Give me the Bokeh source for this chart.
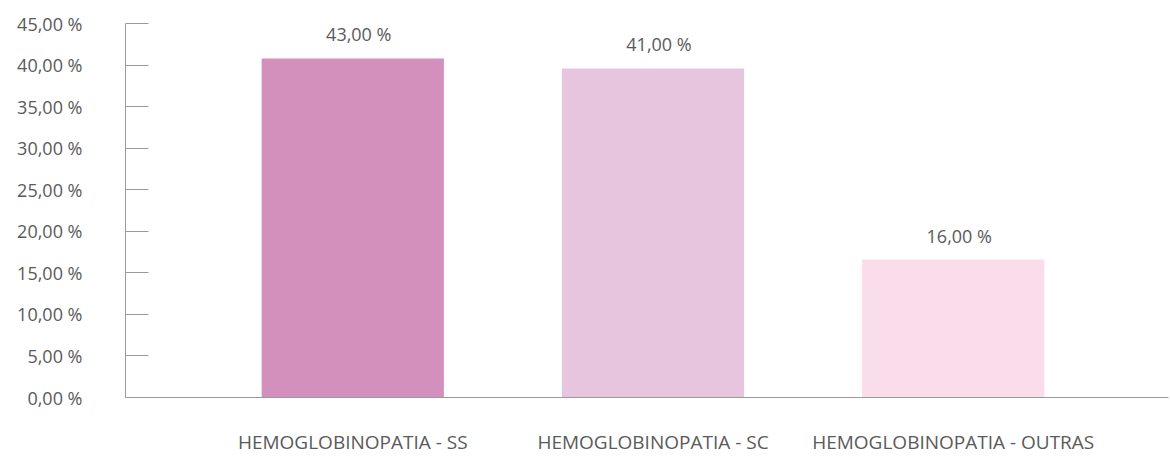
from bokeh.plotting import figure
from bokeh.models import ColumnDataSource, FixedTicker, Range1d
from bokeh.core.properties import value
from bokeh.embed import file_html
from bokeh.resources import INLINE

categories = ["HEMOGLOBINOPATIA - SS", "HEMOGLOBINOPATIA - SC", "HEMOGLOBINOPATIA - OUTRAS"]
bar_heights = [40.8, 39.6, 16.6]
bar_labels = ["43,00 %", "41,00 %", "16,00 %"]
bar_colors = ["#d490bd", "#e8c5de", "#faddea"]
y_ticks = [0, 5, 10, 15, 20, 25, 30, 35, 40, 45]
y_tick_labels = ["0,00 %", "5,00 %", "10,00 %", "15,00 %", "20,00 %", "25,00 %",
                 "30,00 %", "35,00 %", "40,00 %", "45,00 %"]

FONT = "Open Sans"
TXT = "#5a5a5a"
AX = "#9a9a9a"

xs = list(range(len(categories)))
src = ColumnDataSource(dict(x=xs, top=bar_heights, lab=bar_labels, color=bar_colors))

p = figure(width=1170, height=457, output_backend="svg", toolbar_location=None,
           x_range=Range1d(-0.757, 2.717), y_range=Range1d(0, 45),
           min_border_left=125, min_border_right=2, min_border_top=23, min_border_bottom=60)
p.outline_line_color = None
p.grid.grid_line_color = None
p.background_fill_color = "white"
p.border_fill_color = "white"

p.vbar(x="x", top="top", bottom=0, width=0.607, color="color", line_color=None, source=src)
p.text(x="x", y="top", text="lab", source=src, x_offset=6, y_offset=-24,
       text_align="center", text_baseline="middle", text_font=value(FONT),
       text_font_size="18px", text_color=TXT)

ya = p.yaxis[0]
ya.ticker = FixedTicker(ticks=y_ticks)
ya.major_label_overrides = {t: l for t, l in zip(y_ticks, y_tick_labels)}
ya.major_tick_in = 23
ya.major_tick_out = 0
ya.minor_tick_line_color = None
ya.axis_line_color = AX
ya.major_tick_line_color = AX
ya.major_label_standoff = 43
ya.major_label_text_font = FONT
ya.major_label_text_font_size = "18px"
ya.major_label_text_color = TXT

xa = p.xaxis[0]
xa.ticker = FixedTicker(ticks=xs)
xa.major_label_overrides = {i: c for i, c in zip(xs, categories)}
xa.major_tick_line_color = None
xa.minor_tick_line_color = None
xa.major_tick_in = 0
xa.major_tick_out = 0
xa.axis_line_color = AX
xa.major_label_standoff = 31
xa.major_label_text_font = FONT
xa.major_label_text_font_size = "19px"
xa.major_label_text_color = TXT

open("out.html", "w").write(file_html(p, INLINE))
